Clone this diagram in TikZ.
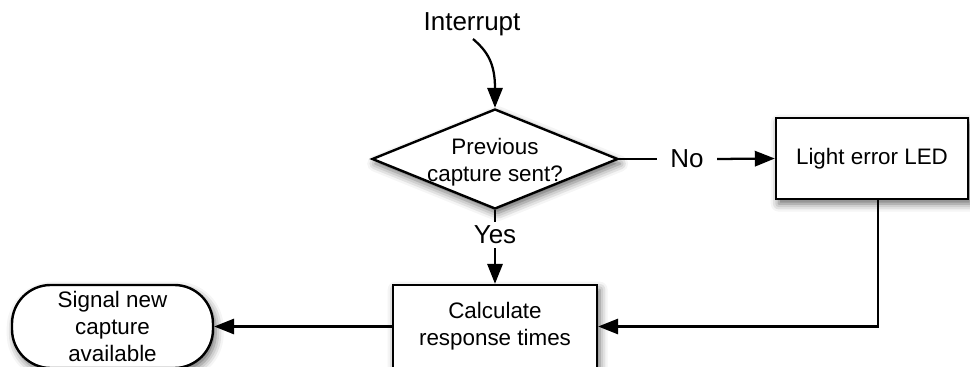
\documentclass[tikz,border=0pt]{standalone}
\usepackage{fontspec}
\setmainfont{Liberation Sans}
\usetikzlibrary{arrows.meta,shapes.geometric,shadows.blur}
\begin{document}
\begin{tikzpicture}[x=0.75pt,y=-0.75pt,
  nodefont/.style={font=\fontsize{16.8}{20}\selectfont},
  labfont/.style={font=\fontsize{19.5}{22}\selectfont},
  shad/.style={blur shadow={shadow xshift=2pt,shadow yshift=-3.5pt,shadow blur radius=6pt,shadow opacity=60}},
  boxnode/.style={draw=black,line width=1.8pt,fill=white,shad,nodefont,align=center,inner sep=0pt},
  conn/.style={line width=1.7pt,draw=black},
  arr/.style={conn,-{Triangle[length=15pt,width=11.5pt]}},
  lab/.style={labfont,inner sep=0pt}
]
\useasboundingbox (0,0) rectangle (970,367);
\clip (0,0) rectangle (970,367);
% nodes
\node[lab] (intr) at (472,24) {Interrupt};
\node[boxnode,shape=diamond,minimum width=184.5pt,minimum height=75pt] (q) at (495,159) {};
\node[nodefont,align=center,inner sep=0pt] (qtext) at (495,162) {Previous\\capture sent?};
\node[boxnode,minimum width=144pt,minimum height=60.75pt] (light) at (872,158.5) {Light error LED};
\node[boxnode,minimum width=153pt,minimum height=62.25pt] (calc) at (495,326.5) {Calculate\\response times};
\node[boxnode,rounded corners=29pt,minimum width=150.75pt,minimum height=62.25pt] (sig) at (112.5,326.5) {Signal new\\capture\\available};
\node[lab,inner xsep=10pt,inner ysep=0pt] (no) at (687,159) {No};
\node[lab,inner xsep=0pt,inner ysep=3pt] (yes) at (495,235) {Yes};
\coordinate (istart) at (473,39);
\coordinate (lightout) at (878,199);
% connectors
\draw[arr] (istart) .. controls +(14,12) and +(0,-45) .. (q.north);
\draw[conn] (q.east) -- (no.west);
\draw[arr] (no.east) -- (light.west);
\draw[conn] (q.south) -- (yes.north);
\draw[arr] (yes.south) -- (calc.north);
\draw[arr] (lightout) |- (calc.east);
\draw[arr] (calc.west) -- (sig.east);
\end{tikzpicture}
\end{document}
